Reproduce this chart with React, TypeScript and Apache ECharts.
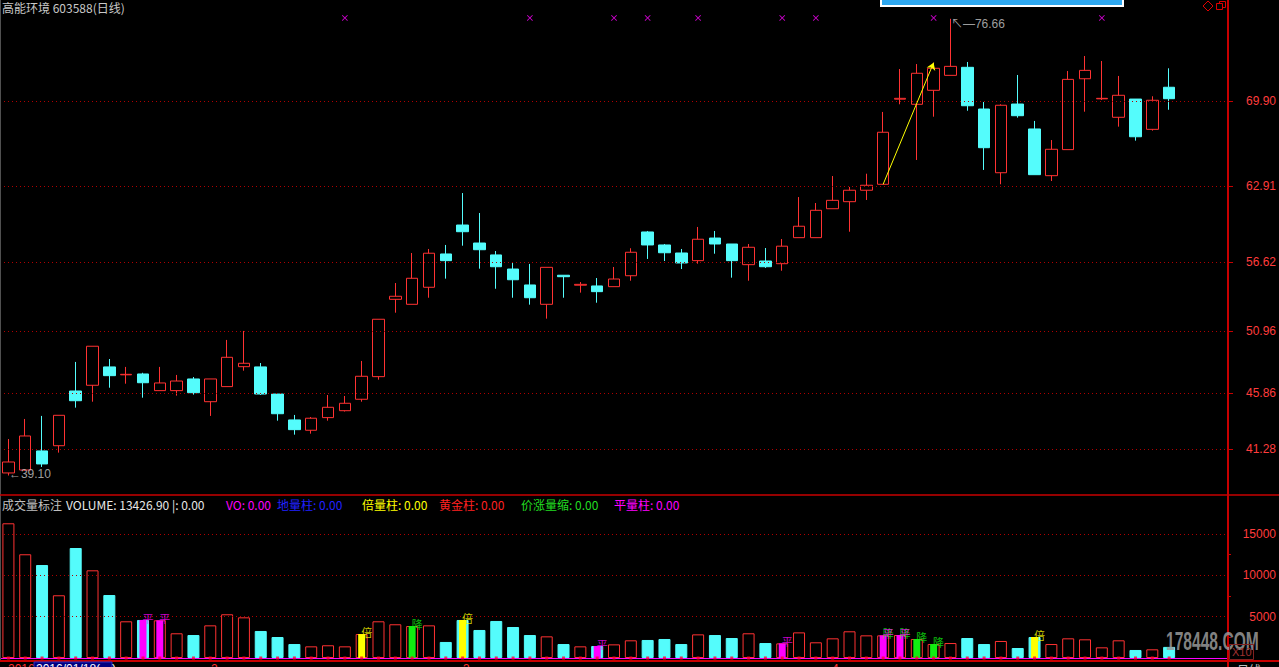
import React, { useEffect, useRef } from "react";
import * as echarts from "echarts";

// ---------- data ----------
const dates = [
  "2016-01-14", "2016-01-15", "2016-01-18", "2016-01-19", "2016-01-20", "2016-01-21", "2016-01-22",
  "2016-01-25", "2016-01-26", "2016-01-27", "2016-01-28", "2016-01-29",
  "2016-02-01", "2016-02-02", "2016-02-03", "2016-02-04", "2016-02-05", "2016-02-15", "2016-02-16",
  "2016-02-17", "2016-02-18", "2016-02-19", "2016-02-22", "2016-02-23", "2016-02-24", "2016-02-25",
  "2016-02-26", "2016-02-29",
  "2016-03-01", "2016-03-02", "2016-03-03", "2016-03-04", "2016-03-07", "2016-03-08", "2016-03-09",
  "2016-03-10", "2016-03-11", "2016-03-14", "2016-03-15", "2016-03-16", "2016-03-17", "2016-03-18",
  "2016-03-21", "2016-03-22", "2016-03-23", "2016-03-24", "2016-03-25", "2016-03-28", "2016-03-29",
  "2016-03-30", "2016-03-31",
  "2016-04-01", "2016-04-05", "2016-04-06", "2016-04-07", "2016-04-08", "2016-04-11", "2016-04-12",
  "2016-04-13", "2016-04-14", "2016-04-15", "2016-04-18", "2016-04-19", "2016-04-20", "2016-04-21",
  "2016-04-22", "2016-04-25", "2016-04-26", "2016-04-27", "2016-04-28",
];
const emptySlots = ["pad1", "pad2", "pad3"];
const categories = [...dates, ...emptySlots];

const opens = [
  39.31, 39.55, 41.12, 41.55, 46.05, 46.52, 48.03, 47.38, 47.45, 46.08,
  46.08, 47.04, 45.17, 46.41, 48.05, 48.03, 45.80, 43.67, 42.82, 43.86,
  44.43, 45.37, 47.23, 53.59, 53.18, 54.58, 57.32, 59.70, 58.22, 57.24,
  56.08, 54.77, 53.18, 55.57, 54.75, 54.69, 54.63, 55.53, 59.13, 58.06,
  57.40, 56.77, 58.63, 58.14, 56.44, 56.74, 56.52, 58.66, 58.66, 61.04,
  61.62, 62.56, 63.05, 70.05, 69.63, 70.78, 72.01, 72.67, 69.24, 64.00,
  69.65, 67.60, 63.76, 65.90, 71.73, 70.08, 68.56, 70.06, 67.57, 71.03,
];
const closes = [
  40.21, 42.35, 40.05, 44.05, 45.25, 49.73, 47.31, 47.42, 46.73, 46.71,
  46.87, 45.91, 47.04, 48.82, 48.33, 45.80, 44.18, 42.87, 43.81, 44.71,
  45.04, 47.26, 51.95, 53.84, 55.32, 57.38, 56.77, 59.15, 57.67, 56.27,
  55.20, 53.72, 56.22, 55.45, 54.82, 54.22, 55.26, 57.46, 58.06, 57.42,
  56.58, 58.53, 58.14, 56.77, 57.87, 56.27, 57.96, 59.60, 60.91, 61.73,
  62.56, 62.97, 67.33, 70.12, 72.18, 72.59, 72.75, 69.51, 66.06, 69.55,
  68.69, 63.84, 65.93, 71.68, 72.42, 70.12, 70.37, 66.96, 69.96, 70.09,
];
const lows = [
  39.10, 39.50, 39.80, 40.98, 44.68, 45.17, 46.32, 46.65, 45.50, 46.08,
  45.67, 45.75, 44.00, 46.41, 47.72, 45.72, 43.61, 42.46, 42.54, 43.61,
  44.36, 45.17, 46.98, 52.49, 53.18, 53.72, 55.29, 58.00, 56.11, 54.46,
  53.72, 53.15, 52.00, 53.72, 54.14, 53.31, 54.63, 55.12, 56.91, 56.74,
  56.08, 56.52, 57.34, 55.37, 55.12, 56.17, 55.94, 58.66, 58.66, 61.04,
  59.15, 61.76, 63.05, 69.63, 65.05, 68.61, 72.01, 69.10, 64.23, 63.05,
  68.53, 63.84, 63.32, 65.90, 69.02, 69.98, 67.79, 66.64, 67.46, 69.18,
];
const highs = [
  42.10, 43.75, 44.00, 44.05, 48.44, 49.73, 48.68, 48.03, 47.55, 48.03,
  47.37, 47.20, 47.04, 50.25, 50.99, 48.35, 45.80, 44.08, 43.91, 45.72,
  45.64, 48.52, 51.95, 54.93, 57.40, 57.73, 58.06, 62.33, 60.69, 57.56,
  56.58, 56.50, 56.22, 55.57, 55.01, 55.34, 56.25, 57.79, 59.21, 58.14,
  57.73, 59.54, 59.21, 58.14, 58.14, 57.81, 58.55, 62.00, 61.51, 63.73,
  62.83, 63.92, 69.00, 72.53, 72.94, 73.05, 76.66, 73.11, 69.82, 69.63,
  72.04, 68.26, 66.69, 72.37, 73.60, 73.19, 71.96, 70.06, 70.29, 72.59,
];
const volumes = [
  16300, 12550, 11250, 7590, 13310, 10610, 7620, 4440, 4600, 4560,
  2990, 2780, 3950, 5290, 4920, 3270, 2540, 1690, 1410, 1540,
  1410, 2900, 4440, 4080, 3870, 3950, 1940, 4600, 3390, 4480,
  3750, 2780, 2620, 1690, 1410, 1450, 1650, 2140, 2180, 2300,
  1690, 2860, 2780, 2420, 2990, 1810, 1770, 3100, 1900, 2380,
  3230, 2740, 2740, 2780, 2300, 1690, 1810, 2420, 1690, 2060,
  1210, 2540, 1690, 2380, 2260, 1290, 2140, 970, 1050, 1343,
];

// marker indices (0-based)
const pingIdx = [8, 9, 35, 46, 52, 53];        // 平量柱
const beiIdx = [21, 27, 61];                    // 倍量柱
const jiangFillIdx = [24, 54, 55];              // 价涨量缩 (fill)
const jiangLabelIdx = [24, 52, 53, 54, 55];     // 降 labels
const signalIdx = [20, 31, 36, 38, 41, 46, 48, 55, 65];
const signalLevel = 76.73;

const priceTicks = [41.28, 45.86, 50.96, 56.62, 62.91, 69.9];
const volTicks = [5000, 10000, 15000];
const volMinorTicks = [2500, 7500, 12500];

const trendFrom = [52, 63.05];
const trendTo = [55, 73.05];
const highMark = [56, 76.66];
const lowMark = [0, 39.1];

const PRICE_MIN = 37.578;
const PRICE_MAX = 78.207;
const VOL_MAX = 17303;

// ---------- styles ----------
const UP = "#FF3232";
const DOWN = "#54FCFC";
const GRID_RED = "#B00000";
const AXIS_RED = "#C80000";
const LABEL_RED = "#FF3C3C";
const MAGENTA = "#FF00FF";
const YELLOW = "#FFFF00";
const GREEN = "#11EE11";
const FONT = '"Liberation Sans", Arial, "Noto Sans CJK SC", sans-serif';
const CJK = '"Noto Sans CJK SC", "Liberation Sans", sans-serif';

function buildOption() {
  const ohlc = opens.map((o, i) => [o, closes[i], lows[i], highs[i]]);
  const isUp = (i: number) => closes[i] >= opens[i];

  const volData = volumes.map((v, i) => ({
    value: v,
    itemStyle: isUp(i)
      ? { color: "#000", borderColor: UP, borderWidth: 1 }
      : { color: DOWN, borderColor: DOWN, borderWidth: 1 },
  }));

  const overlay = volumes.map((v, i) => {
    if (pingIdx.includes(i)) return { value: v, itemStyle: { color: MAGENTA } };
    if (beiIdx.includes(i)) return { value: v, itemStyle: { color: YELLOW } };
    if (jiangFillIdx.includes(i)) return { value: v, itemStyle: { color: GREEN } };
    return "-";
  });

  const labelData: any[] = [];
  jiangLabelIdx.forEach((i) =>
    labelData.push({ value: [i, volumes[i]], label: { formatter: "降", color: GREEN } })
  );
  pingIdx.forEach((i) =>
    labelData.push({ value: [i, volumes[i]], label: { formatter: "平", color: MAGENTA } })
  );
  beiIdx.forEach((i) =>
    labelData.push({ value: [i, volumes[i]], label: { formatter: "倍", color: YELLOW } })
  );

  const legendItems = [
    { x: 2, t: "成交量标注", c: "#C0C0C0" },
    { x: 66, t: "VOLUME: 13426.90 |: 0.00", c: "#E8E8E8" },
    { x: 226, t: "VO: 0.00", c: MAGENTA },
    { x: 277, t: "地量柱: 0.00", c: "#2020FF" },
    { x: 362, t: "倍量柱: 0.00", c: YELLOW },
    { x: 439, t: "黄金柱: 0.00", c: "#FF2020" },
    { x: 521, t: "价涨量缩: 0.00", c: "#22DD22" },
    { x: 614, t: "平量柱: 0.00", c: MAGENTA },
  ];

  const graphics: any[] = [
    // frame lines
    { type: "line", shape: { x1: 0.5, y1: 0, x2: 0.5, y2: 661 }, style: { stroke: "#505050", lineWidth: 1 }, z: 10 },
    { type: "line", shape: { x1: 0, y1: 495, x2: 1279, y2: 495 }, style: { stroke: AXIS_RED, lineWidth: 1.5 }, z: 10 },
    { type: "line", shape: { x1: 0, y1: 661, x2: 1279, y2: 661 }, style: { stroke: AXIS_RED, lineWidth: 2 }, z: 10 },
    { type: "line", shape: { x1: 1228, y1: 0, x2: 1228, y2: 667 }, style: { stroke: AXIS_RED, lineWidth: 2 }, z: 10 },
    // title
    {
      type: "text", x: 2, y: 7, z: 10,
      style: { text: "高能环境 603588(日线)", fill: "#C8C8C8", font: `12px ${CJK}`, verticalAlign: "middle" },
    },
    // top blue bar
    { type: "rect", shape: { x: 881, y: -3, width: 242, height: 9 }, style: { fill: "#2EA8F0", stroke: "#FFFFFF", lineWidth: 2 }, z: 10 },
    // top-right icons
    {
      type: "polygon", z: 10,
      shape: { points: [[1208, 1], [1213, 6], [1208, 11], [1203, 6]] },
      style: { fill: "none", stroke: "#E00000", lineWidth: 1 },
    },
    { type: "rect", shape: { x: 1219.5, y: 1.5, width: 6, height: 6 }, style: { fill: "#000", stroke: "#E00000", lineWidth: 1 }, z: 10 },
    { type: "rect", shape: { x: 1216.5, y: 3.5, width: 6, height: 6 }, style: { fill: "#000", stroke: "#E00000", lineWidth: 1 }, z: 11 },
    // watermark
    {
      type: "text", x: 1166, y: 642, scaleX: 0.6, z: 12,
      style: { text: "178448.COM", fill: "#9A9A9A", opacity: 0.85, font: `bold 26px ${FONT}`, verticalAlign: "middle" },
    },
    // X10 box
    { type: "rect", shape: { x: 1229.5, y: 644.5, width: 24, height: 15 }, style: { fill: "none", stroke: "#802020", lineWidth: 1 }, z: 12 },
    {
      type: "text", x: 1232, y: 652, z: 12,
      style: { text: "X10", fill: "#A03030", font: `11px ${FONT}`, verticalAlign: "middle" },
    },
    // bottom cut-off axis texts
    { type: "text", x: 8, y: 663, z: 10, style: { text: "2016", fill: UP, font: `12px ${FONT}` } },
    { type: "rect", shape: { x: 34, y: 662, width: 78, height: 8 }, style: { fill: "#000080", stroke: "#3030C0", lineWidth: 1 }, z: 10 },
    { type: "text", x: 36, y: 663, z: 11, style: { text: "2016/01/18(一)", fill: "#FFFFFF", font: `12px ${FONT}` } },
    { type: "text", x: 211, y: 663, z: 10, style: { text: "2", fill: UP, font: `12px ${FONT}` } },
    { type: "text", x: 463, y: 663, z: 10, style: { text: "3", fill: UP, font: `12px ${FONT}` } },
    { type: "text", x: 832, y: 663, z: 10, style: { text: "4", fill: UP, font: `12px ${FONT}` } },
    { type: "text", x: 1237, y: 663, z: 10, style: { text: "日线", fill: "#C0C0C0", font: `12px ${CJK}` } },
    ...legendItems.map((it) => ({
      type: "text", x: it.x, y: 504, z: 10,
      style: { text: it.t, fill: it.c, font: `12px ${CJK}`, verticalAlign: "middle" },
    })),
  ];

  return {
    animation: false,
    backgroundColor: "#000000",
    textStyle: { fontFamily: FONT },
    grid: [
      { left: 0, top: 0, width: 1228, height: 494 },
      { left: 0, top: 515, width: 1228, height: 143 },
    ],
    xAxis: [
      { type: "category", gridIndex: 0, data: categories, axisLine: { show: false }, axisTick: { show: false }, axisLabel: { show: false }, splitLine: { show: false } },
      { type: "category", gridIndex: 1, data: categories, axisLine: { show: false }, axisTick: { show: false }, axisLabel: { show: false }, splitLine: { show: false } },
      { type: "category", gridIndex: 1, data: categories, show: false },
    ],
    yAxis: [
      {
        type: "value", gridIndex: 0, position: "right", min: PRICE_MIN, max: PRICE_MAX,
        axisLine: { show: false }, splitLine: { show: false },
        axisTick: { show: true, customValues: priceTicks, length: 5, lineStyle: { color: AXIS_RED } },
        axisLabel: {
          customValues: priceTicks, color: LABEL_RED, fontSize: 12, fontFamily: FONT,
          margin: 48, align: "right", formatter: (v: number) => v.toFixed(2),
        },
      },
      {
        type: "value", gridIndex: 1, position: "right", min: 0, max: VOL_MAX,
        axisLine: { show: false }, splitLine: { show: false },
        axisTick: { show: true, customValues: volMinorTicks, length: 3, lineStyle: { color: AXIS_RED } },
        axisLabel: {
          customValues: volTicks, color: LABEL_RED, fontSize: 12, fontFamily: FONT,
          margin: 48, align: "right", formatter: (v: number) => String(v),
        },
      },
    ],
    series: [
      // price gridlines (behind)
      {
        type: "line", xAxisIndex: 0, yAxisIndex: 0, data: [], z: 1, silent: true,
        markLine: {
          silent: true, symbol: "none", label: { show: false },
          lineStyle: { color: GRID_RED, type: [1, 3], width: 1 },
          data: priceTicks.map((v) => ({ yAxis: v })),
        },
      },
      // volume gridlines (behind)
      {
        type: "line", xAxisIndex: 1, yAxisIndex: 1, data: [], z: 1, silent: true,
        markLine: {
          silent: true, symbol: "none", label: { show: false },
          lineStyle: { color: GRID_RED, type: [1, 3], width: 1 },
          data: volTicks.map((v) => ({ yAxis: v })),
        },
      },
      {
        name: "K", type: "candlestick", xAxisIndex: 0, yAxisIndex: 0, z: 3,
        barWidth: 12, data: ohlc,
        itemStyle: { color: "#000", color0: DOWN, borderColor: UP, borderColor0: DOWN, borderWidth: 1 },
      },
      // signal crosses
      {
        type: "scatter", xAxisIndex: 0, yAxisIndex: 0, z: 4,
        symbol: "path://M0,1L1,0L5,4L9,0L10,1L6,5L10,9L9,10L5,6L1,10L0,9L4,5Z",
        symbolSize: 6, itemStyle: { color: MAGENTA },
        data: signalIdx.map((i) => [i, signalLevel]),
      },
      // high / low annotations
      {
        type: "scatter", xAxisIndex: 0, yAxisIndex: 0, z: 5, symbolSize: 1,
        itemStyle: { color: "transparent" },
        label: { show: true, color: "#C8C8C8", fontSize: 12, fontFamily: FONT },
        data: [
          { value: highMark, label: { position: "right", distance: 0, offset: [0, 5], formatter: "↖—" + highMark[1].toFixed(2) } },
          { value: lowMark, label: { position: "right", distance: 0, offset: [0, -1], formatter: "←" + lowMark[1].toFixed(2) } },
        ],
      },
      // trend line
      {
        type: "line", xAxisIndex: 0, yAxisIndex: 0, data: [], z: 6,
        markLine: {
          silent: true, symbol: ["none", "arrow"], symbolSize: 7, label: { show: false },
          lineStyle: { color: "#FFFF00", type: "solid", width: 1 },
          data: [[{ coord: trendFrom }, { coord: trendTo }]],
        },
      },
      // volume bars
      {
        type: "bar", xAxisIndex: 1, yAxisIndex: 1, z: 3, barWidth: 12, data: volData,
        markLine: {
          silent: true, symbol: "none", label: { show: false },
          lineStyle: { color: MAGENTA, type: "solid", width: 1 },
          data: [{ yAxis: 0 }],
        },
      },
      // highlighted overlay bars
      { type: "bar", xAxisIndex: 2, yAxisIndex: 1, z: 4, barWidth: 7, data: overlay },
      // baseline squares
      {
        type: "scatter", xAxisIndex: 1, yAxisIndex: 1, z: 6, symbol: "rect", symbolSize: 3,
        itemStyle: { color: "#FF0030" },
        data: volumes.map((_, i) => [i, 0]),
      },
      // volume text marks
      {
        type: "scatter", xAxisIndex: 1, yAxisIndex: 1, z: 7, symbolSize: 1,
        itemStyle: { color: "transparent" },
        label: { show: true, position: "inside", offset: [5, -2], fontSize: 11, fontFamily: CJK },
        data: labelData,
      },
    ],
    graphic: graphics,
  };
}

export default function App() {
  const ref = useRef<HTMLDivElement>(null);
  useEffect(() => {
    if (!ref.current) return;
    const chart = echarts.init(ref.current, null, { renderer: "svg" });
    chart.setOption(buildOption() as any);
    return () => chart.dispose();
  }, []);
  return (
    <div
      ref={ref}
      style={{ position: "fixed", left: 0, top: 0, width: 1279, height: 667, background: "#000" }}
    />
  );
}
